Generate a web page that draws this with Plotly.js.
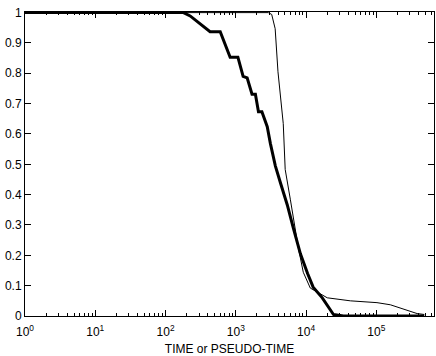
<!DOCTYPE html>
<html>
<head>
<meta charset="utf-8">
<script src="https://cdn.plot.ly/plotly-3.0.1.min.js"></script>
<style>
  html, body { margin: 0; padding: 0; background: #fff; }
  #chart { width: 436px; height: 356px; }
</style>
</head>
<body>
<div id="chart"></div>
<script>
// thick curve
var thickX = [1, 180, 224, 310, 430, 600, 710, 830, 1070, 1270, 1450, 1700, 1900, 2100, 2350,
              2800, 3100, 3400, 3650, 4300, 5400, 6600, 8300, 10500, 12600, 17000, 21000, 24500, 34000, 480000];
var thickY = [1, 1, 0.989, 0.963, 0.937, 0.937, 0.892, 0.853, 0.853, 0.79, 0.785, 0.731, 0.731, 0.673, 0.673,
              0.624, 0.569, 0.527, 0.495, 0.44, 0.366, 0.289, 0.205, 0.14, 0.095, 0.06, 0.027, 0.005, 0, 0];

// thin curve
var thinX = [1, 2900, 3240, 3630, 3980, 4730, 5040, 5370, 5960, 7760, 9120, 11480, 14450, 20000,
             42700, 102000, 158000, 219000, 302000, 380000, 480000];
var thinY = [1, 1, 0.994, 0.947, 0.805, 0.634, 0.483, 0.44, 0.385, 0.224, 0.144, 0.092, 0.079, 0.06,
             0.05, 0.044, 0.037, 0.027, 0.015, 0.008, 0.005];

var xTickVals = [1, 10, 100, 1000, 10000, 100000];
var xTickText = ['10<sup>0</sup>', '10<sup>1</sup>', '10<sup>2</sup>', '10<sup>3</sup>', '10<sup>4</sup>', '10<sup>5</sup>'];
var yTickVals = [0, 0.1, 0.2, 0.3, 0.4, 0.5, 0.6, 0.7, 0.8, 0.9, 1];
var yTickText = ['0', '0.1', '0.2', '0.3', '0.4', '0.5', '0.6', '0.7', '0.8', '0.9', '1'];

var traces = [
  { x: thinX, y: thinY, type: 'scatter', mode: 'lines', line: { color: '#000', width: 1 }, hoverinfo: 'none' },
  { x: thickX, y: thickY, type: 'scatter', mode: 'lines', line: { color: '#000', width: 3 }, hoverinfo: 'none' }
];

var layout = {
  width: 436, height: 356,
  margin: { l: 25, r: 2, t: 12, b: 40 },
  showlegend: false,
  paper_bgcolor: '#fff', plot_bgcolor: '#fff',
  font: { family: 'Liberation Sans, Arial, sans-serif', size: 12, color: '#000' },
  xaxis: {
    type: 'log', range: [0, 5.82],
    tickvals: xTickVals, ticktext: xTickText,
    ticks: 'inside', ticklen: 6, tickcolor: '#000',
    ticklabelstandoff: 5,
    minor: { dtick: 'D1', ticks: 'inside', ticklen: 3, tickcolor: '#000' },
    showline: true, linecolor: '#000', linewidth: 1, mirror: 'allticks',
    showgrid: false, zeroline: false,
    title: { text: 'TIME or PSEUDO-TIME', font: { size: 12 }, standoff: 9 }
  },
  yaxis: {
    range: [0, 1.002],
    tickmode: 'array', tickvals: yTickVals, ticktext: yTickText,
    ticks: 'inside', ticklen: 6, tickcolor: '#000',
    ticklabeloverflow: 'allow',
    showline: true, linecolor: '#000', linewidth: 1, mirror: 'allticks',
    showgrid: false, zeroline: false
  }
};

Plotly.newPlot('chart', traces, layout, { staticPlot: true });
</script>
</body>
</html>
